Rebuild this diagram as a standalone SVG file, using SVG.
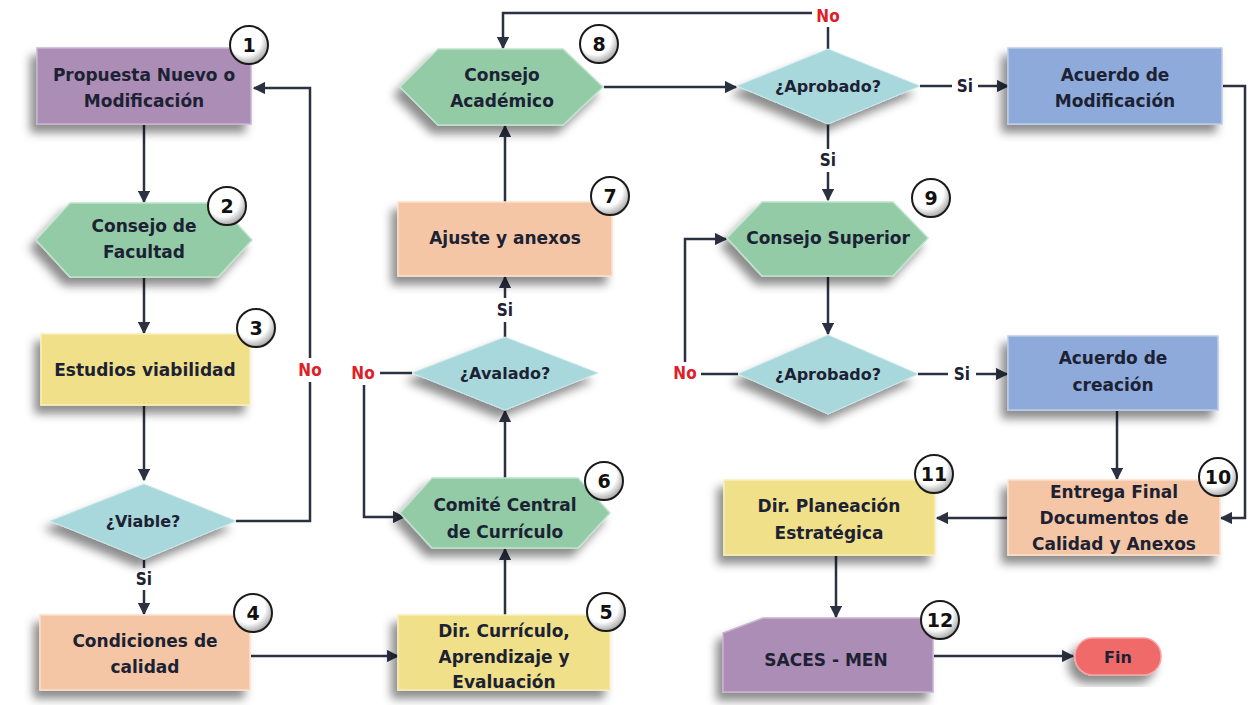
<svg xmlns="http://www.w3.org/2000/svg" width="1248" height="705" viewBox="0 0 1248 705">
<defs>
<filter id="sh" x="-20%" y="-20%" width="140%" height="150%">
<feDropShadow dx="-6" dy="8" stdDeviation="5" flood-color="#000" flood-opacity="0.45"/>
</filter>
<radialGradient id="bg" cx="40%" cy="35%" r="70%">
<stop offset="0.6" stop-color="#ffffff"/>
<stop offset="1" stop-color="#9a9a9a"/>
</radialGradient>
<marker id="ar" viewBox="0 0 10 10" refX="9" refY="5" markerWidth="5" markerHeight="5" orient="auto">
<path d="M0,0 L10,5 L0,10 z" fill="#2b3140"/>
</marker>
<style>
.t{font-family:"DejaVu Sans","Liberation Sans",sans-serif;font-weight:bold;font-size:17px;fill:#1c2233;text-anchor:middle}
.d{font-size:16px}
.n{font-family:"DejaVu Sans","Liberation Sans",sans-serif;font-weight:bold;font-size:19px;fill:#111;text-anchor:middle}
.lb{font-family:"DejaVu Sans Condensed","DejaVu Sans",sans-serif;font-weight:bold;font-size:17px;text-anchor:middle}
.c{fill:none;stroke:#2b3140;stroke-width:2.5}
.ca{fill:none;stroke:#2b3140;stroke-width:2.5;marker-end:url(#ar)}
.purple{fill:#ab8db5;stroke:#c9b3cf;stroke-width:1.5}
.green{fill:#93cba7;stroke:#bfe3cc;stroke-width:1.5}
.teal{fill:#a9d8dc;stroke:#c8e8ea;stroke-width:1}
.yellow{fill:#f0e08a;stroke:#f8efba;stroke-width:1.5}
.salmon{fill:#f5c6a5;stroke:#fbe0cc;stroke-width:1.5}
.blue{fill:#8eaadb;stroke:#bcccea;stroke-width:1.5}
.red{fill:#f06a6a;stroke:#f7a3a3;stroke-width:1.5}
.badge{fill:url(#bg);stroke:#1a1a1a;stroke-width:2}
.lbox{fill:#ffffff}
</style>
</defs>
<rect width="1248" height="705" fill="#ffffff"/>

<g id="connectors">
<line class="ca" x1="144" y1="125" x2="144" y2="202"/>
<line class="ca" x1="144" y1="278" x2="144" y2="333"/>
<line class="ca" x1="144" y1="406" x2="144" y2="480"/>
<polyline class="c" points="144,560 144,568"/>
<line class="ca" x1="144" y1="590" x2="144" y2="614"/>
<polyline class="ca" points="236,521 310,521 310,88 254,88"/>
<polyline class="ca" points="251,656 398,656"/>
<line class="ca" x1="505" y1="615" x2="505" y2="549"/>
<line class="ca" x1="505" y1="478" x2="505" y2="411"/>
<line class="c" x1="412" y1="373" x2="380" y2="373"/>
<polyline class="ca" points="364,385 364,517 404,517"/>
<line class="c" x1="505" y1="337" x2="505" y2="322"/>
<line class="ca" x1="505" y1="298" x2="505" y2="277"/>
<line class="ca" x1="505" y1="202" x2="505" y2="126"/>
<line class="ca" x1="604" y1="87" x2="736" y2="87"/>
<line class="c" x1="828" y1="49" x2="828" y2="27"/>
<polyline class="ca" points="812,13 503,13 503,48"/>
<line class="c" x1="920" y1="86" x2="952" y2="86"/>
<line class="ca" x1="978" y1="86" x2="1008" y2="86"/>
<polyline class="ca" points="1223,86 1245,86 1245,518 1221,518"/>
<line class="c" x1="828" y1="124" x2="828" y2="149"/>
<line class="ca" x1="828" y1="172" x2="828" y2="200"/>
<line class="ca" x1="828" y1="277" x2="828" y2="334"/>
<line class="c" x1="738" y1="374" x2="701" y2="374"/>
<polyline class="ca" points="685,362 685,239 726,239"/>
<line class="c" x1="918" y1="374" x2="948" y2="374"/>
<line class="ca" x1="976" y1="374" x2="1007" y2="374"/>
<line class="ca" x1="1117" y1="411" x2="1117" y2="479"/>
<line class="ca" x1="1007" y1="518" x2="937" y2="518"/>
<line class="ca" x1="836" y1="556" x2="836" y2="617"/>
<line class="ca" x1="934" y1="656" x2="1073" y2="656"/>
</g>

<g id="labels">
<rect class="lbox" x="132" y="568" width="24" height="22"/>
<text class="lb" x="144" y="585" fill="#1c2233">Si</text>
<rect class="lbox" x="293" y="358" width="34" height="24"/>
<text class="lb" x="310" y="376" fill="#e02027">No</text>
<rect class="lbox" x="346" y="362" width="34" height="22"/>
<text class="lb" x="363" y="379" fill="#e02027">No</text>
<rect class="lbox" x="493" y="298" width="24" height="24"/>
<text class="lb" x="505" y="316" fill="#1c2233">Si</text>
<rect class="lbox" x="812" y="5" width="32" height="22"/>
<text class="lb" x="828" y="22" fill="#e02027">No</text>
<rect class="lbox" x="952" y="74" width="26" height="24"/>
<text class="lb" x="965" y="92" fill="#1c2233">Si</text>
<rect class="lbox" x="816" y="149" width="24" height="23"/>
<text class="lb" x="828" y="166" fill="#1c2233">Si</text>
<rect class="lbox" x="669" y="362" width="32" height="22"/>
<text class="lb" x="685" y="379" fill="#e02027">No</text>
<rect class="lbox" x="948" y="362" width="28" height="24"/>
<text class="lb" x="962" y="380" fill="#1c2233">Si</text>
</g>

<g id="n1">
<rect class="purple" x="37" y="48" width="214" height="76" filter="url(#sh)"/>
<text class="t" x="144" y="81">Propuesta Nuevo o</text>
<text class="t" x="144" y="107">Modificación</text>
<circle class="badge" cx="249" cy="45" r="19"/>
<text class="n" x="249" y="52">1</text>
</g>

<g id="n2">
<polygon class="green" points="36,240 70,203 218,203 252,240 218,277 70,277" filter="url(#sh)"/>
<text class="t" x="144" y="232">Consejo de</text>
<text class="t" x="144" y="258">Facultad</text>
<circle class="badge" cx="227" cy="206" r="19"/>
<text class="n" x="227" y="213">2</text>
</g>

<g id="n3">
<rect class="yellow" x="41" y="334" width="209" height="71" filter="url(#sh)"/>
<text class="t" x="145" y="376">Estudios viabilidad</text>
<circle class="badge" cx="256" cy="328" r="19"/>
<text class="n" x="256" y="335">3</text>
</g>

<g id="d1">
<polygon class="teal" points="50,521 144,484 236,521 144,559" filter="url(#sh)"/>
<text class="t d" x="143" y="527">¿Viable?</text>
</g>

<g id="n4">
<rect class="salmon" x="40" y="615" width="210" height="75" filter="url(#sh)"/>
<text class="t" x="145" y="647">Condiciones de</text>
<text class="t" x="145" y="673">calidad</text>
<circle class="badge" cx="253" cy="613" r="19"/>
<text class="n" x="253" y="620">4</text>
</g>

<g id="n5">
<rect class="yellow" x="398" y="615" width="212" height="75" filter="url(#sh)"/>
<text class="t" x="504" y="637">Dir. Currículo,</text>
<text class="t" x="504" y="663">Aprendizaje y</text>
<text class="t" x="504" y="688">Evaluación</text>
<circle class="badge" cx="606" cy="612" r="19"/>
<text class="n" x="606" y="619">5</text>
</g>

<g id="n6">
<polygon class="green" points="400,513 432,478 578,478 610,513 578,548 432,548" filter="url(#sh)"/>
<text class="t" x="505" y="511">Comité Central</text>
<text class="t" x="505" y="538">de Currículo</text>
<circle class="badge" cx="604" cy="481" r="19"/>
<text class="n" x="604" y="488">6</text>
</g>

<g id="d2">
<polygon class="teal" points="412,373 505,337 598,373 505,410" filter="url(#sh)"/>
<text class="t d" x="505" y="379">¿Avalado?</text>
</g>

<g id="n7">
<rect class="salmon" x="398" y="202" width="214" height="74" filter="url(#sh)"/>
<text class="t" x="505" y="244">Ajuste y anexos</text>
<circle class="badge" cx="610" cy="196" r="19"/>
<text class="n" x="610" y="203">7</text>
</g>

<g id="n8">
<polygon class="green" points="400,87 438,49 563,49 603,87 563,125 438,125" filter="url(#sh)"/>
<text class="t" x="502" y="81">Consejo</text>
<text class="t" x="502" y="107">Académico</text>
<circle class="badge" cx="599" cy="44" r="19"/>
<text class="n" x="599" y="51">8</text>
</g>

<g id="d3">
<polygon class="teal" points="737,86 828,49 920,86 828,124" filter="url(#sh)"/>
<text class="t d" x="828" y="92">¿Aprobado?</text>
</g>

<g id="n_mod">
<rect class="blue" x="1008" y="48" width="214" height="76" filter="url(#sh)"/>
<text class="t" x="1115" y="81">Acuerdo de</text>
<text class="t" x="1115" y="107">Modificación</text>
</g>

<g id="n9">
<polygon class="green" points="727,238 762,202 893,202 928,238 893,276 762,276" filter="url(#sh)"/>
<text class="t" x="828" y="244">Consejo Superior</text>
<circle class="badge" cx="931" cy="198" r="19"/>
<text class="n" x="931" y="205">9</text>
</g>

<g id="d4">
<polygon class="teal" points="738,374 828,335 918,374 828,414" filter="url(#sh)"/>
<text class="t d" x="828" y="380">¿Aprobado?</text>
</g>

<g id="n_crea">
<rect class="blue" x="1008" y="336" width="210" height="74" filter="url(#sh)"/>
<text class="t" x="1113" y="364">Acuerdo de</text>
<text class="t" x="1113" y="391">creación</text>
</g>

<g id="n10">
<rect class="salmon" x="1008" y="480" width="212" height="75" filter="url(#sh)"/>
<text class="t" x="1114" y="498">Entrega Final</text>
<text class="t" x="1114" y="524">Documentos de</text>
<text class="t" x="1114" y="550">Calidad y Anexos</text>
<circle class="badge" cx="1218" cy="477" r="19"/>
<text class="n" x="1218" y="484">10</text>
</g>

<g id="n11">
<rect class="yellow" x="724" y="480" width="211" height="75" filter="url(#sh)"/>
<text class="t" x="829" y="512">Dir. Planeación</text>
<text class="t" x="829" y="539">Estratégica</text>
<circle class="badge" cx="934" cy="474" r="19"/>
<text class="n" x="934" y="481">11</text>
</g>

<g id="n12">
<polygon class="purple" points="723,633 763,618 933,618 933,692 723,692" filter="url(#sh)"/>
<text class="t" x="826" y="666">SACES - MEN</text>
<circle class="badge" cx="940" cy="620" r="19"/>
<text class="n" x="940" y="627">12</text>
</g>

<g id="fin">
<rect class="red" x="1075" y="638" width="86" height="37" rx="18" ry="18" filter="url(#sh)"/>
<text class="t d" x="1118" y="663">Fin</text>
</g>
</svg>
